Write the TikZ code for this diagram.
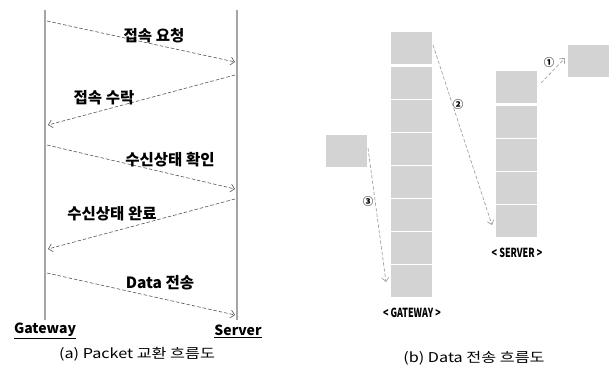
\documentclass[tikz,border=0pt]{standalone}
\usepackage{fontspec}
\setmainfont{Noto Sans CJK KR}
\usetikzlibrary{arrows.meta}
\definecolor{boxgray}{RGB}{211,211,211}
\definecolor{linegray}{RGB}{165,165,165}
\definecolor{dashdark}{RGB}{85,85,85}
\definecolor{dashlight}{RGB}{150,150,150}
\begin{document}
\begin{tikzpicture}[x=1pt,y=-1pt,
  lifeline/.style={line width=2.6pt, draw=linegray},
  msg/.style={dash pattern=on 3.5pt off 2pt, draw=dashdark, line width=0.6pt, -{Straight Barb[length=4pt,width=8pt]}},
  flow/.style={dash pattern=on 3.5pt off 2pt, draw=dashlight, line width=0.6pt, -{Straight Barb[length=4pt,width=7pt]}},
  msglabel/.style={font=\bfseries\fontsize{15.5}{15.5}\selectfont, inner sep=0pt},
  endlabel/.style={font=\bfseries\fontsize{14}{14}\selectfont, inner sep=0pt},
  caption/.style={font=\fontsize{13.5}{13.5}\selectfont, inner sep=0pt},
  box/.style={fill=boxgray, draw=none, minimum width=41pt, minimum height=32pt, inner sep=0pt, anchor=north west},
  stacklabel/.style={font=\bfseries\fontsize{12.5}{12.5}\selectfont, inner sep=0pt},
  numlabel/.style={font=\bfseries\fontsize{10.5}{10.5}\selectfont, inner sep=0pt}]
\useasboundingbox (0,0) rectangle (613,367);

% ---------- (a) ----------
\coordinate (gtop) at (45,10);
\coordinate (gbot) at (45,320);
\coordinate (stop) at (237,10);
\coordinate (sbot) at (237,320);
\draw[lifeline] (gtop) -- (gbot);
\draw[lifeline] (stop) -- (sbot);

\coordinate (m1a) at (47,21);  \coordinate (m1b) at (235,62);
\coordinate (m2a) at (235,75); \coordinate (m2b) at (48,125);
\coordinate (m3a) at (47,145); \coordinate (m3b) at (235,189);
\coordinate (m4a) at (235,199);\coordinate (m4b) at (48,249);
\coordinate (m5a) at (47,273); \coordinate (m5b) at (235,315);
\draw[msg] (m1a) -- (m1b);
\draw[msg] (m2a) -- (m2b);
\draw[msg] (m3a) -- (m3b);
\draw[msg] (m4a) -- (m4b);
\draw[msg] (m5a) -- (m5b);

\node[msglabel] (l1) at (154,36) {접속 요청};
\node[msglabel] (l2) at (104,98) {접속 수락};
\node[msglabel] (l3) at (170,160) {수신상태 확인};
\node[msglabel] (l4) at (112,214) {수신상태 완료};
\node[msglabel] (l5) at (160,283) {Data 전송};

\node[endlabel] (gw) at (45,331) {\underline{Gateway}};
\node[endlabel] (sv) at (238,331) {\underline{Server}};
\node[caption] (capa) at (137,354) {\scalebox{1.2}[1]{(a) Packet 교환 흐름도}};

% ---------- (b) ----------
\node[box] (g0) at (391,32) {};
\foreach \i in {1,...,7}{
  \node[box] (g\i) at (391,{67+(\i-1)*33}) {};
}
\node[box] (s0) at (496,71) {};
\foreach \i in {1,...,4}{
  \node[box] (s\i) at (496,{106+(\i-1)*33}) {};
}
\node[box] (rbox) at (568,45) {};
\node[box] (lbox) at (326,135) {};

\coordinate (f1a) at (541,83);  \coordinate (f1b) at (565,58);
\coordinate (f2a) at (433,45);  \coordinate (f2b) at (492,225);
\coordinate (f3a) at (368,148); \coordinate (f3b) at (386,282);
\draw[flow] (f1a) -- (f1b);
\draw[flow] (f2a) -- (f2b);
\draw[flow] (f3a) -- (f3b);

\node[numlabel] (n1) at (549,63) {①};
\node[numlabel] (n2) at (458,105) {②};
\node[numlabel] (n3) at (368,202) {③};

\node[stacklabel] (gl) at (412,313) {\scalebox{0.72}[1]{< GATEWAY >}};
\node[stacklabel] (sl) at (517,253) {\scalebox{0.72}[1]{< SERVER >}};
\node[caption] (capb) at (474,358) {\scalebox{1.2}[1]{(b) Data 전송 흐름도}};
\end{tikzpicture}
\end{document}
